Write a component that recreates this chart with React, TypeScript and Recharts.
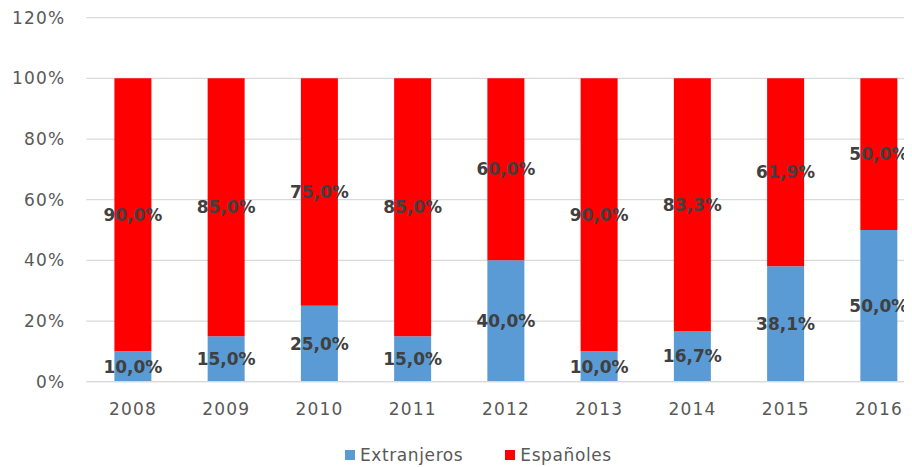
import { Bar, BarChart, CartesianGrid, LabelList, XAxis, YAxis } from "recharts";

const years = ["2008", "2009", "2010", "2011", "2012", "2013", "2014", "2015", "2016"];
const extranjeros = [10, 15, 25, 15, 40, 10, 16.7, 38.1, 50];
const espanoles = [90, 85, 75, 85, 60, 90, 83.3, 61.9, 50];
const yTicks = [0, 20, 40, 60, 80, 100, 120];

const data = years.map((year, i) => ({
  year,
  extranjeros: extranjeros[i],
  espanoles: espanoles[i],
}));

const BLUE = "#5B9BD5";
const RED = "#FF0000";
const FONT = "'DejaVu Sans', Verdana, sans-serif";

const fmt = (v: number) => v.toFixed(1).replace(".", ",") + "%";

const renderLabel = (props: any) => {
  const { x, y, width, height, value } = props;
  return (
    <text
      x={x + width / 2}
      y={y + height / 2}
      textAnchor="middle"
      dominantBaseline="central"
      fill="#404040"
      fontSize={17}
      fontWeight="bold"
      fontFamily={FONT}
    >
      {fmt(value)}
    </text>
  );
};

const tickStyle = { fill: "#595959", fontSize: 17, fontFamily: FONT, letterSpacing: 1.2 };

export default function App() {
  return (
    <div style={{ position: "relative", width: 904, height: 459, overflow: "hidden" }}>
      <BarChart
        width={920}
        height={459}
        data={data}
        margin={{ top: 9.7, right: 2.4, bottom: 45, left: 0 }}
        barSize={37}
      >
        <CartesianGrid vertical={false} stroke="#d9d9d9" strokeWidth={1.3} />
        <XAxis
          dataKey="year"
          tickLine={false}
          tickSize={0}
          tickMargin={21}
          axisLine={{ stroke: "#d9d9d9", strokeWidth: 1.3 }}
          tick={tickStyle}
          height={40.3}
          interval={0}
        />
        <YAxis
          domain={[0, 120]}
          ticks={yTicks}
          tickFormatter={(v) => v + "%"}
          axisLine={false}
          tickLine={false}
          tickSize={0}
          tickMargin={21}
          tick={tickStyle}
          width={78.4}
        />
        <Bar dataKey="extranjeros" stackId="a" fill={BLUE} isAnimationActive={false}>
          <LabelList dataKey="extranjeros" content={renderLabel} />
        </Bar>
        <Bar dataKey="espanoles" stackId="a" fill={RED} isAnimationActive={false}>
          <LabelList dataKey="espanoles" content={renderLabel} />
        </Bar>
      </BarChart>
      <div
        style={{
          position: "absolute",
          left: 337,
          top: 437,
          display: "flex",
          alignItems: "center",
          fontFamily: FONT,
          fontSize: 17,
          color: "#595959",
          letterSpacing: 0.6,
        }}
      >
        <span style={{ width: 10, height: 10, background: BLUE, display: "inline-block", marginRight: 5 }} />
        <span style={{ marginRight: 42 }}>Extranjeros</span>
        <span style={{ width: 10, height: 10, background: RED, display: "inline-block", marginRight: 5 }} />
        <span>Españoles</span>
      </div>
    </div>
  );
}
